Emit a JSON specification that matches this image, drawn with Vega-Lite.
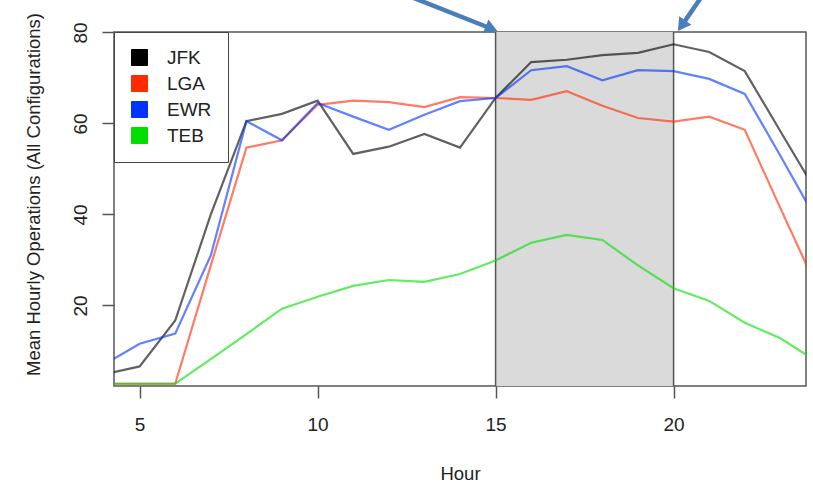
{
  "$schema": "https://vega.github.io/schema/vega-lite/v6.json",
  "width": 692,
  "height": 354,
  "autosize": {"type": "none"},
  "padding": {"left": 114, "top": 32, "right": 7, "bottom": 96},
  "background": "white",
  "config": {
    "view": {"stroke": "#555", "strokeWidth": 1.5},
    "font": "Liberation Sans",
    "axis": {"grid": false, "domain": false, "tickColor": "#555", "tickWidth": 1.5, "tickSize": 12,
      "labelFontSize": 19, "labelColor": "#222", "titleFontSize": 18.5, "titleFontWeight": "normal", "titleColor": "#222"}
  },
  "datasets": {
    "ops": [
      {"hour": 4, "airport": "JFK", "ops": 4.9}, {"hour": 5, "airport": "JFK", "ops": 6.6}, {"hour": 6, "airport": "JFK", "ops": 16.7},
      {"hour": 7, "airport": "JFK", "ops": 40.0}, {"hour": 8, "airport": "JFK", "ops": 60.5}, {"hour": 9, "airport": "JFK", "ops": 62.1},
      {"hour": 10, "airport": "JFK", "ops": 65.0}, {"hour": 11, "airport": "JFK", "ops": 53.3}, {"hour": 12, "airport": "JFK", "ops": 54.9},
      {"hour": 13, "airport": "JFK", "ops": 57.7}, {"hour": 14, "airport": "JFK", "ops": 54.7}, {"hour": 15, "airport": "JFK", "ops": 65.6},
      {"hour": 16, "airport": "JFK", "ops": 73.5}, {"hour": 17, "airport": "JFK", "ops": 74.0}, {"hour": 18, "airport": "JFK", "ops": 75.0},
      {"hour": 19, "airport": "JFK", "ops": 75.5}, {"hour": 20, "airport": "JFK", "ops": 77.4}, {"hour": 21, "airport": "JFK", "ops": 75.7},
      {"hour": 22, "airport": "JFK", "ops": 71.5}, {"hour": 23, "airport": "JFK", "ops": 58.3}, {"hour": 24, "airport": "JFK", "ops": 45.1},
      {"hour": 4, "airport": "LGA", "ops": 2.8}, {"hour": 5, "airport": "LGA", "ops": 2.8}, {"hour": 6, "airport": "LGA", "ops": 2.8},
      {"hour": 7, "airport": "LGA", "ops": 28.8}, {"hour": 8, "airport": "LGA", "ops": 54.7}, {"hour": 9, "airport": "LGA", "ops": 56.3},
      {"hour": 10, "airport": "LGA", "ops": 64.1}, {"hour": 11, "airport": "LGA", "ops": 65.0}, {"hour": 12, "airport": "LGA", "ops": 64.7},
      {"hour": 13, "airport": "LGA", "ops": 63.6}, {"hour": 14, "airport": "LGA", "ops": 65.8}, {"hour": 15, "airport": "LGA", "ops": 65.6},
      {"hour": 16, "airport": "LGA", "ops": 65.2}, {"hour": 17, "airport": "LGA", "ops": 67.1}, {"hour": 18, "airport": "LGA", "ops": 63.9},
      {"hour": 19, "airport": "LGA", "ops": 61.2}, {"hour": 20, "airport": "LGA", "ops": 60.4}, {"hour": 21, "airport": "LGA", "ops": 61.5},
      {"hour": 22, "airport": "LGA", "ops": 58.6}, {"hour": 23, "airport": "LGA", "ops": 41.4}, {"hour": 24, "airport": "LGA", "ops": 24.4},
      {"hour": 4, "airport": "EWR", "ops": 7.0}, {"hour": 5, "airport": "EWR", "ops": 11.6}, {"hour": 6, "airport": "EWR", "ops": 13.8},
      {"hour": 7, "airport": "EWR", "ops": 31.0}, {"hour": 8, "airport": "EWR", "ops": 60.5}, {"hour": 9, "airport": "EWR", "ops": 56.3},
      {"hour": 10, "airport": "EWR", "ops": 64.5}, {"hour": 11, "airport": "EWR", "ops": 61.5}, {"hour": 12, "airport": "EWR", "ops": 58.6},
      {"hour": 13, "airport": "EWR", "ops": 61.9}, {"hour": 14, "airport": "EWR", "ops": 64.9}, {"hour": 15, "airport": "EWR", "ops": 65.6},
      {"hour": 16, "airport": "EWR", "ops": 71.7}, {"hour": 17, "airport": "EWR", "ops": 72.6}, {"hour": 18, "airport": "EWR", "ops": 69.5},
      {"hour": 19, "airport": "EWR", "ops": 71.7}, {"hour": 20, "airport": "EWR", "ops": 71.5}, {"hour": 21, "airport": "EWR", "ops": 69.8},
      {"hour": 22, "airport": "EWR", "ops": 66.5}, {"hour": 23, "airport": "EWR", "ops": 52.9}, {"hour": 24, "airport": "EWR", "ops": 39.0},
      {"hour": 4, "airport": "TEB", "ops": 2.8}, {"hour": 5, "airport": "TEB", "ops": 2.8}, {"hour": 6, "airport": "TEB", "ops": 2.8},
      {"hour": 7, "airport": "TEB", "ops": 8.2}, {"hour": 8, "airport": "TEB", "ops": 13.7}, {"hour": 9, "airport": "TEB", "ops": 19.3},
      {"hour": 10, "airport": "TEB", "ops": 21.9}, {"hour": 11, "airport": "TEB", "ops": 24.3}, {"hour": 12, "airport": "TEB", "ops": 25.6},
      {"hour": 13, "airport": "TEB", "ops": 25.2}, {"hour": 14, "airport": "TEB", "ops": 26.9}, {"hour": 15, "airport": "TEB", "ops": 29.9},
      {"hour": 16, "airport": "TEB", "ops": 33.8}, {"hour": 17, "airport": "TEB", "ops": 35.5}, {"hour": 18, "airport": "TEB", "ops": 34.4},
      {"hour": 19, "airport": "TEB", "ops": 28.8}, {"hour": 20, "airport": "TEB", "ops": 23.8}, {"hour": 21, "airport": "TEB", "ops": 21.0},
      {"hour": 22, "airport": "TEB", "ops": 16.2}, {"hour": 23, "airport": "TEB", "ops": 12.8}, {"hour": 24, "airport": "TEB", "ops": 7.8}
    ],
    "band": [{"start": 15, "end": 20}],
    "marks": [{"hour": 15}, {"hour": 20}],
    "arrows": [
      {"hour": 12.45, "ops": 88.35, "hour2": 14.888, "ops2": 80.81, "angle": 112},
      {"hour": 20.83, "ops": 88.35, "hour2": 20.225, "ops2": 81.45, "angle": 215}
    ]
  },
  "layer": [
    {
      "data": {"name": "band"},
      "mark": {"type": "rect", "color": "#dadada"},
      "encoding": {
        "x": {"field": "start", "type": "quantitative", "scale": {"domain": [4.28, 23.72], "nice": false, "zero": false},
          "axis": {"values": [5, 10, 15, 20], "title": "Hour", "labelPadding": 17, "titlePadding": 30}},
        "x2": {"field": "end"}
      }
    },
    {
      "data": {"name": "marks"},
      "mark": {"type": "rule", "color": "#555", "strokeWidth": 1.5},
      "encoding": {"x": {"field": "hour", "type": "quantitative"}}
    },
    {
      "data": {"name": "ops"},
      "mark": {"type": "line", "clip": true, "strokeWidth": 2.2, "opacity": 0.62},
      "encoding": {
        "x": {"field": "hour", "type": "quantitative"},
        "y": {"field": "ops", "type": "quantitative", "scale": {"domain": [2.3, 80.1], "nice": false, "zero": false},
          "axis": {"values": [20, 40, 60, 80], "title": "Mean Hourly Operations (All Configurations)", "labelAngle": -90,
            "labelAlign": "center", "labelBaseline": "bottom", "labelPadding": 12, "titlePadding": 28, "titleY": 162}},
        "color": {"field": "airport", "type": "nominal",
          "scale": {"domain": ["JFK", "LGA", "EWR", "TEB"], "range": ["#000000", "#ff2a00", "#0033ff", "#00e000"]},
          "legend": {"title": null, "orient": "top-left", "offset": 0, "padding": 16, "strokeColor": "#444", "fillColor": "white",
            "symbolType": "square", "symbolSize": 256, "labelFontSize": 19, "labelColor": "#222", "labelOffset": 18, "rowPadding": 5,
            "symbolOpacity": 1,
            "encode": {"symbols": {"update": {"fill": {"scale": "color", "field": "value"}, "stroke": {"value": "#222"}, "strokeWidth": {"value": 1}, "opacity": {"value": 1}}}}}
        }
      }
    },
    {
      "data": {"name": "arrows"},
      "mark": {"type": "rule", "color": "#4a7ebb", "strokeWidth": 4.5},
      "encoding": {
        "x": {"field": "hour", "type": "quantitative"},
        "y": {"field": "ops", "type": "quantitative"},
        "x2": {"field": "hour2"},
        "y2": {"field": "ops2"}
      }
    },
    {
      "data": {"name": "arrows"},
      "mark": {"type": "point", "shape": "triangle-up", "filled": true, "color": "#4a7ebb", "opacity": 1, "size": 220},
      "encoding": {
        "x": {"field": "hour2", "type": "quantitative"},
        "y": {"field": "ops2", "type": "quantitative"},
        "angle": {"field": "angle", "type": "quantitative", "scale": null}
      }
    }
  ]
}
